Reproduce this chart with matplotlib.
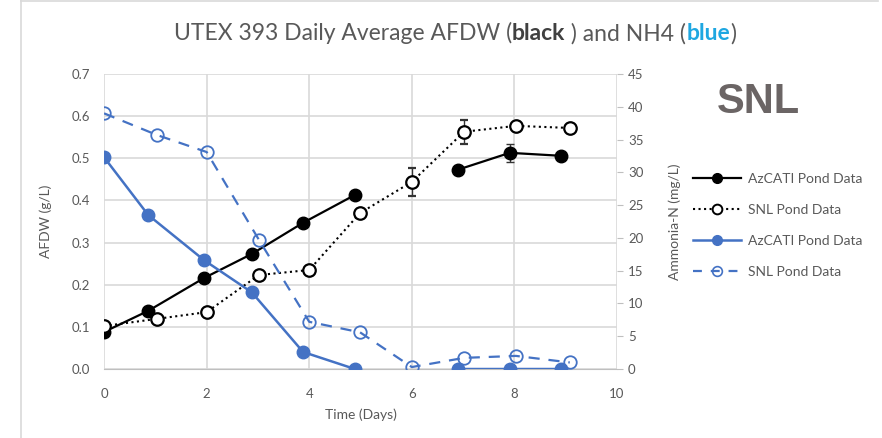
import numpy as np
import matplotlib.pyplot as plt
from matplotlib.lines import Line2D

# day values for each pond
day_az = [0, 0.86, 1.95, 2.88, 3.88, 4.89, 6.0, 6.9, 7.91, 8.9]
day_snl = [0, 1.03, 2.0, 3.02, 4.0, 4.99, 6.0, 7.02, 8.03, 9.08]

# AFDW (g/L), left axis
afdw_az = [0.088, 0.138, 0.216, 0.273, 0.347, 0.413, np.nan, 0.473, 0.513, 0.506]
afdw_az_err = [0, 0, 0, 0, 0, 0, 0, 0, 0.022, 0]
afdw_snl = [0.102, 0.119, 0.135, 0.223, 0.235, 0.370, 0.444, 0.563, 0.577, 0.572]
afdw_snl_err = [0, 0, 0, 0, 0, 0, 0.033, 0.028, 0, 0]

# ammonia-N (mg/L), right axis
nh4_az = [32.3, 23.5, 16.6, 11.7, 2.6, 0, np.nan, 0, 0, 0]
nh4_snl = [39.0, 35.7, 33.1, 19.7, 7.2, 5.6, 0.3, 1.7, 2.0, 1.0]

series_label = ['AzCATI Pond Data', 'SNL Pond Data', 'AzCATI Pond Data', 'SNL Pond Data']

blue = '#4472C4'
gray = '#595959'
grid = '#d9d9d9'
plt.rcParams['font.family'] = ['Lato', 'DejaVu Sans']

fig = plt.figure(figsize=(8.82, 4.38), dpi=100)
ax = fig.add_axes([0.118, 0.1575, 0.5815, 0.6735])
ax2 = ax.twinx()

ax.errorbar(day_az, afdw_az, yerr=afdw_az_err, color='black', lw=1.6, marker='o',
            ms=9, ecolor='#333333', elinewidth=1, capsize=3, zorder=3)
ax.errorbar(day_snl, afdw_snl, yerr=afdw_snl_err, color='black', lw=1.5, ls=':',
            marker='o', ms=9, mfc='white', mew=1.6, ecolor='#333333',
            elinewidth=1, capsize=3, zorder=3)
ax2.plot(day_az, nh4_az, color=blue, lw=1.8, marker='o', ms=9)
ax2.plot(day_snl, nh4_snl, color=blue, lw=1.6, ls=(0, (5, 4)), marker='o', ms=9,
         mfc='none', mew=1.3)

ax.set_xlim(0, 10)
ax.set_ylim(0, 0.7)
ax2.set_ylim(0, 45)
ax.set_xticks(range(0, 11, 2))
ax.set_yticks(np.arange(0, 0.71, 0.1))
ax.set_yticklabels([f'{v:.1f}' for v in np.arange(0, 0.71, 0.1)])
ax2.set_yticks(range(0, 46, 5))

ax.grid(True, color=grid, lw=1.2)
ax.set_axisbelow(True)
for sp in ['top', 'right', 'left']:
    ax.spines[sp].set_visible(False)
    ax2.spines[sp].set_visible(False)
ax2.spines['bottom'].set_visible(False)
ax.spines['bottom'].set_color('#bfbfbf')
ax.tick_params(axis='x', length=0, colors=gray, labelsize=9.5, pad=14)
ax.tick_params(axis='y', length=0, colors=gray, labelsize=9.5, pad=10)
ax2.tick_params(axis='y', length=4, color='#bfbfbf', colors=gray, labelsize=9.5, pad=4)
ax.set_xlabel('Time (Days)', color=gray, fontsize=10, labelpad=6)
ax.set_ylabel('AFDW (g/L)', color=gray, fontsize=10, labelpad=14)
ax2.set_ylabel('Ammonia-N (mg/L)', color=gray, fontsize=10, labelpad=18)

handles = [
    Line2D([], [], color='black', lw=1.6, marker='o', ms=7),
    Line2D([], [], color='black', lw=1.5, ls=':', marker='o', ms=7, mfc='white', mew=1.4),
    Line2D([], [], color=blue, lw=1.8, marker='o', ms=7),
    Line2D([], [], color=blue, lw=1.6, ls=(0, (4, 4)), marker='o', ms=7, mfc='none', mew=1.2),
]
fig.legend(handles, series_label, loc='upper left', bbox_to_anchor=(0.772, 0.634),
           frameon=False, fontsize=10, labelcolor=gray, handlelength=3.45,
           labelspacing=1.37, handletextpad=0.45)

fig.text(0.86, 0.767, 'SNL', fontsize=30, fontweight='bold', color='#6b6565',
         family='Liberation Sans', ha='center', va='center')

# title in pieces so the colour words stand out
pieces = [('UTEX 393 Daily Average AFDW (', gray, 'normal'),
          ('black', '#404040', 'bold'),
          (' ) and NH4 (', gray, 'normal'),
          ('blue', '#1ea7e1', 'bold'),
          (')', gray, 'normal')]
title = [fig.text(0.197, 0.899, s, fontsize=16.5, color=c, fontweight=w,
                  va='bottom') for s, c, w in pieces]
fig.canvas.draw()
x = title[0].get_window_extent().x1
y = title[0].get_window_extent().y0
for txt in title[1:]:
    txt.set_transform(None)
    txt.set_position((x, y))
    fig.canvas.draw()
    x = txt.get_window_extent().x1

fig.add_artist(Line2D([21 / 882, 21 / 882], [0, 1], color=grid, lw=1.2,
                      transform=fig.transFigure))
fig.add_artist(Line2D([21 / 882, 878 / 882], [437 / 438, 437 / 438], color=grid,
                      lw=1.2, transform=fig.transFigure))

fig.savefig('out.png', dpi=100)
